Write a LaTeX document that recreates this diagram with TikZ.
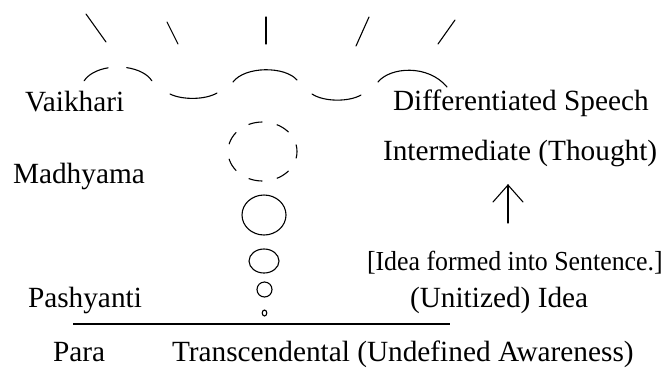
\documentclass[tikz,border=0pt]{standalone}
\usepackage{fontspec}
\setmainfont{Liberation Serif}
\usepackage{graphicx}
\usetikzlibrary{shapes.geometric}
\begin{document}
\begin{tikzpicture}[x=1pt,y=-1pt,
  stroke/.style={line width=1.1pt, line cap=round},
  lbl/.style={anchor=base west, inner sep=0pt, outer sep=0pt,
    font=\fontsize{29.3}{34}\selectfont},
  bubble/.style={draw, ellipse, inner sep=0pt, outer sep=0pt, line width=1.1pt},
  cloud/.style={bubble, dash pattern=on 14pt off 14.77pt, dash phase=7pt}]
\fill[white] (0,0) rectangle (666,368);
\useasboundingbox (0,0) rectangle (666,368);

% levels of speech (left column)
\node[lbl] (vaikhari)  at (25,111) {Vaikhari};
\node[lbl] (madhyama)  at (13,183) {Madhyama};
\node[lbl] (pashyanti) at (28,307) {Pashyanti};
\node[lbl] (para)      at (53,361) {Para};

% descriptions (right column)
\node[lbl] (speech)    at (393,110) {Differentiated Speech};
\node[lbl] (thought)   at (383,160) {Intermediate (Thought)};
\node[lbl] (sentence)  at (367,270)
  {\scalebox{0.94}[1]{\fontsize{27.5}{32}\selectfont [Idea formed into Sentence.]}};
\node[lbl] (idea)      at (410,307) {(Unitized) Idea};
\node[lbl] (awareness) at (172,361) {Transcendental (Undefined Awareness)};

% upward arrow between sentence and thought
\coordinate (arrowtip)  at (508,185);
\coordinate (arrowfoot) at (508,223);
\draw[stroke] (arrowfoot) -- (arrowtip);
\draw[stroke] (arrowtip) ++(-15,17) -- (arrowtip) -- ++(15,17);

% ground line above Para
\coordinate (groundL) at (73,324);
\coordinate (groundR) at (450,324);
\draw[stroke, line cap=butt] (groundL) -- (groundR);

% rising bubbles
\node[bubble, minimum width=4.6pt, minimum height=6pt]  (b1) at (264.5,313)   {};
\node[bubble, minimum width=15pt,  minimum height=15pt] (b2) at (264.5,289.5) {};
\node[bubble, minimum width=30pt,  minimum height=24pt] (b3) at (264,261)     {};
\node[bubble, minimum width=44pt,  minimum height=40pt] (b4) at (264,215)     {};
\node[cloud,  minimum width=69pt,  minimum height=59pt] (b5) at (262.5,151.5) {};

% wavy line of spoken sound
\draw[stroke] ([shift={(118,88)}]200:36 and 21) arc[start angle=200, end angle=254, x radius=36, y radius=21];
\draw[stroke] ([shift={(118,88)}]284:36 and 21) arc[start angle=284, end angle=340, x radius=36, y radius=21];
\draw[stroke] (170,94) .. controls (182,100) and (205,100) .. (217,93);
\draw[stroke] (233,82) .. controls (245,66) and (285,66) .. (297,80);
\draw[stroke] (312,94) .. controls (324,102) and (349,102) .. (361,95);
\draw[stroke] (378,82) .. controls (390,67) and (428,64) .. (447,87);

% radiating rays
\draw[stroke] (86,14)  -- (106,42);
\draw[stroke] (167,22) -- (178,44);
\draw[stroke] (266,17) -- (266,44);
\draw[stroke] (369,17) -- (356,46);
\draw[stroke] (455,20) -- (438,44);
\end{tikzpicture}
\end{document}
